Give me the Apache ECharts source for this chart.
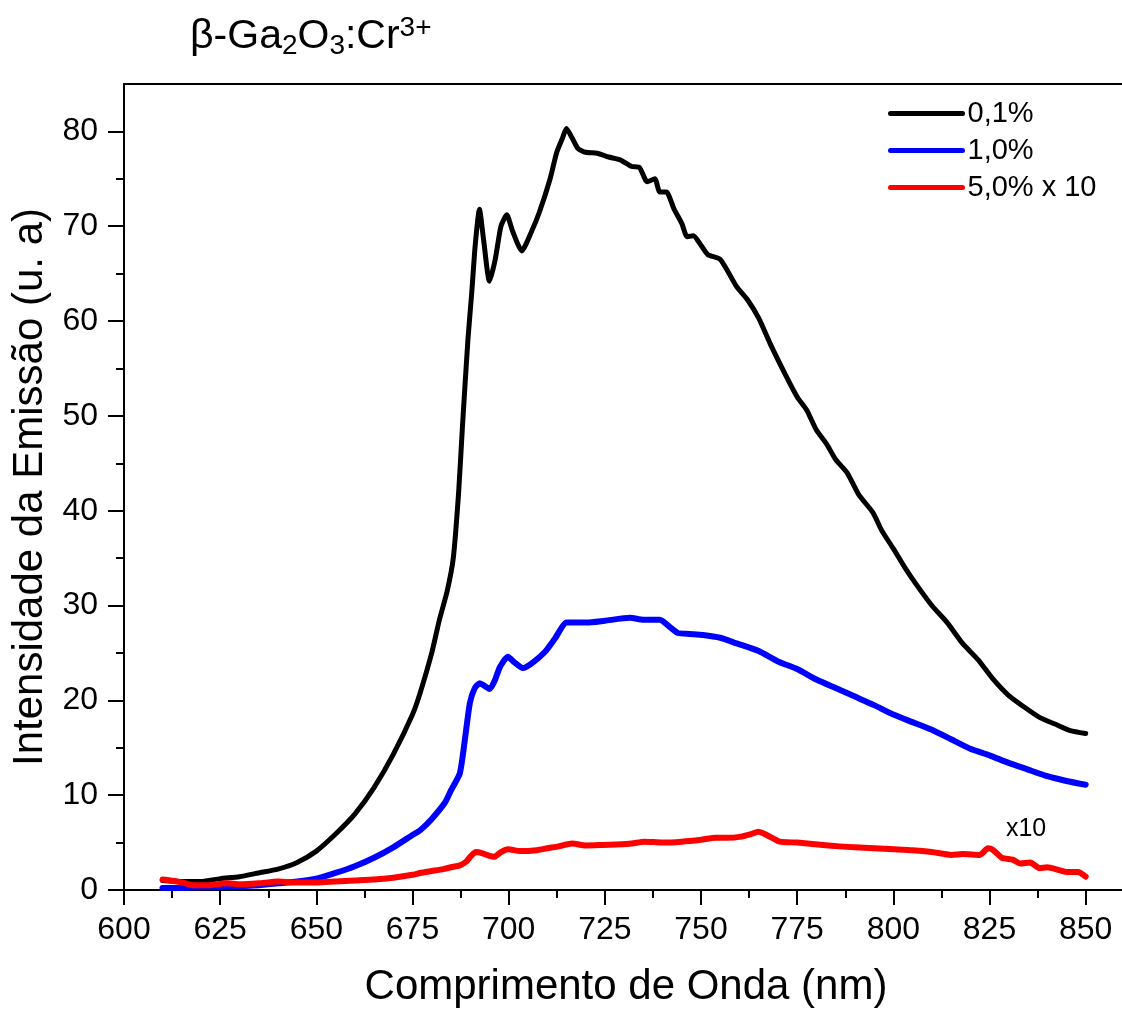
<!DOCTYPE html>
<html>
<head>
<meta charset="utf-8">
<title>β-Ga2O3:Cr3+</title>
<style>
html, body { margin: 0; padding: 0; background: #fff; overflow: hidden; }
#main { width: 1122px; height: 1014px; }
</style>
</head>
<body>
<div id="main"></div>
<script src="https://cdn.jsdelivr.net/npm/echarts@6.0.0/dist/echarts.min.js"></script>
<script>
// 0,1% Cr
var wlBlack = [610,615,620,625,630,635,640,645,650,655, 660,665,670,675,677,680,682,684,685.6,687,
  688,689.4,690.4,691.3,692.4,693.5,695,696.5,698,699.5, 701,703.4,706,708,710.7,712.5,714,715,716.5,718,
  720,723,726,729,732,734,736,738,739.3,741, 743,745,746.4,748,750,751.8,755,759.3,762,765,
  768,772,775,777.5,780,782.7,785,788,791,794.7, 797,800,803,806,810,814,818,822,826,830,
  834,838,842,846,850];
var valBlack = [1.0,0.9,0.9,1.2,1.4,1.8,2.2,2.9,4.1,5.9, 8.0,10.8,14.3,18.5,20.8,25,28.5,31.5,35,42,
  49,58,63,68,71.8,68.5,64.2,66.5,70,71.2, 69.5,67.4,69.5,71.5,74.9,77.8,79.3,80.3,79.3,78.2,
  77.8,77.7,77.3,77,76.3,76.2,74.7,75,73.6,73.6, 71.8,70.3,68.9,69,68,67,66.5,63.6,62.3,60.3,
  57.6,54.3,52,50.6,48.5,47,45.4,44,41.7,39.8, 37.9,36,34,32.2,30,28.2,26,24.3,22.2,20.5,
  19.3,18.2,17.5,16.8,16.5];

// 1,0% Cr
var wlBlue = [610,615,620,625,630,635,640,645,650,655, 660,665,670,675,677,680,683.4,685,687.3,688.6,
  689.9,691.2,692.5,693.8,695.1,696.5,697.7,699.8,701.5,703.7, 706,709.4,712,715.1,720.3,725,731.5,735,739.3,742,
  744,747,750.5,755,759.3,765,770,775,780,785, 790,795,800,805,810,815,820,825,830,835,
  840,845,850];
var valBlue = [0.2,0.2,0.3,0.3,0.4,0.5,0.7,0.9,1.2,1.8, 2.5,3.4,4.5,5.8,6.3,7.5,9.2,10.5,12.3,15.8,
  19.7,21.3,21.8,21.5,21.2,22.2,23.5,24.6,24.0,23.4, 23.9,25.1,26.5,28.2,28.2,28.4,28.7,28.5,28.5,27.7,
  27.1,27.0,26.9,26.6,26.0,25.2,24.1,23.3,22.2,21.3, 20.4,19.5,18.5,17.7,16.9,15.9,14.9,14.2,13.4,12.7,
  12.0,11.5,11.1];

// 5,0% Cr (x10)
var wlRed = [610,612,615,618,622,626.7,630,635,640,644, 650,655,660,665,670,675,677,680,683,685,
  687.3,689,690,691.5,693,695,696.2,698,699.8,703, 707.3,710,713,716.5,720,724.5,728,732,735.2,740,
  745,750,753.8,757,760,763,764.9,766,768,770.5, 775,781.7,786,790,795,800.2,805,810,815.1,818,
  822.5,824.6,826,828.2,831,833,835.6,838,840,843.1, 845,848,850];
var valRed = [1.1,1.0,0.8,0.5,0.5,0.7,0.6,0.7,0.9,0.8, 0.8,0.9,1.0,1.1,1.3,1.6,1.8,2.0,2.2,2.4,
  2.6,3.0,3.5,4.0,3.9,3.6,3.5,4.0,4.3,4.1, 4.2,4.4,4.6,4.9,4.7,4.75,4.8,4.9,5.1,5.0,
  5.1,5.3,5.5,5.5,5.6,5.9,6.15,6.0,5.6,5.1, 5.0,4.75,4.6,4.5,4.4,4.3,4.2,4.0,3.7,3.8,
  3.7,4.4,4.2,3.4,3.2,2.8,2.9,2.3,2.4,2.1, 1.9,1.9,1.4];

var names = ['0,1%', '1,0%', '5,0% x 10'];
var colors = ['#000000', '#0000ff', '#ff0000'];
var xMajor = [600,625,650,675,700,725,750,775,800,825,850];
var xMinor = [612.5,637.5,662.5,687.5,712.5,737.5,762.5,787.5,812.5,837.5];
var yMajor = [0,10,20,30,40,50,60,70,80];
var yMinor = [5,15,25,35,45,55,65,75];
var noteX10 = [834.5, 6.4];

var FONT = '"Liberation Sans", Arial, sans-serif';

function pairs(xs, ys) {
	return xs.map(function(x, i){ return [x, ys[i]]; });
}

var chart = echarts.init(document.getElementById('main'));

var option = {
	animation: false,
	backgroundColor: '#fff',
	textStyle: { fontFamily: FONT, color: '#000' },
	title: {
		left: 190, top: 14, padding: 0,
		text: '{n|β-Ga}{sub|2}{n|O}{sub|3}{n|:Cr}{sup|3+}',
		textStyle: {
			fontWeight: 'normal',
			rich: {
				n: { fontFamily: FONT, fontSize: 41, fontWeight: 'normal', color: '#000', lineHeight: 46 },
				sub: { fontFamily: FONT, fontSize: 28, fontWeight: 'normal', color: '#000', lineHeight: 14, verticalAlign: 'bottom' },
				sup: { fontFamily: FONT, fontSize: 28, fontWeight: 'normal', color: '#000', lineHeight: 24, verticalAlign: 'top' }
			}
		}
	},
	legend: {
		orient: 'vertical', left: 888, top: 99, padding: 0,
		itemWidth: 72, itemHeight: 5, itemGap: 8,
		data: names,
		lineStyle: { width: 5, cap: 'round' },
		textStyle: { fontFamily: FONT, fontSize: 29, color: '#000', lineHeight: 29 }
	},
	grid: {
		left: 124, top: 84, width: 1004, height: 806,
		outerBoundsMode: 'none', containLabel: false, show: false
	},
	xAxis: [
		{
			type: 'value', min: 600, max: 861, position: 'bottom',
			name: 'Comprimento de Onda (nm)', nameLocation: 'middle', nameGap: 76,
			nameTextStyle: { fontFamily: FONT, fontSize: 42, color: '#000' },
			axisLine: { show: true, lineStyle: { color: '#000', width: 2 } },
			axisTick: { show: true, customValues: xMajor, length: 15, lineStyle: { color: '#000', width: 2 } },
			axisLabel: { customValues: xMajor, fontFamily: FONT, fontSize: 32, color: '#000', margin: 24 },
			splitLine: { show: false }
		},
		{
			type: 'value', min: 600, max: 861, position: 'bottom',
			axisLine: { show: false },
			axisTick: { show: true, customValues: xMinor, length: 8, lineStyle: { color: '#000', width: 2 } },
			axisLabel: { show: false },
			splitLine: { show: false }
		},
		{
			// top frame line only
			type: 'value', min: 600, max: 861, position: 'top',
			axisLine: { show: true, lineStyle: { color: '#000', width: 2 } },
			axisTick: { show: false },
			axisLabel: { show: false },
			splitLine: { show: false }
		}
	],
	yAxis: [
		{
			type: 'value', min: 0, max: 85, position: 'left',
			name: 'Intensidade da Emissão (u. a)', nameLocation: 'middle', nameGap: 72,
			nameTextStyle: { fontFamily: FONT, fontSize: 42, color: '#000' },
			axisLine: { show: true, lineStyle: { color: '#000', width: 2 } },
			axisTick: { show: true, customValues: yMajor, length: 16, lineStyle: { color: '#000', width: 2 } },
			axisLabel: { customValues: yMajor, fontFamily: FONT, fontSize: 32, color: '#000', margin: 26 },
			splitLine: { show: false }
		},
		{
			type: 'value', min: 0, max: 85, position: 'left',
			axisLine: { show: false },
			axisTick: { show: true, customValues: yMinor, length: 8, lineStyle: { color: '#000', width: 2 } },
			axisLabel: { show: false },
			splitLine: { show: false }
		}
	],
	series: [
		{
			name: names[0], type: 'line', symbol: 'none', smooth: 0.2,
			data: pairs(wlBlack, valBlack),
			lineStyle: { color: colors[0], width: 5, cap: 'round', join: 'round' },
			itemStyle: { color: colors[0] }
		},
		{
			name: names[1], type: 'line', symbol: 'none', smooth: 0.2,
			data: pairs(wlBlue, valBlue),
			lineStyle: { color: colors[1], width: 6, cap: 'round', join: 'round' },
			itemStyle: { color: colors[1] }
		},
		{
			name: names[2], type: 'line', symbol: 'none', smooth: 0.2,
			data: pairs(wlRed, valRed),
			lineStyle: { color: colors[2], width: 6, cap: 'round', join: 'round' },
			itemStyle: { color: colors[2] },
			markPoint: {
				symbol: 'circle', symbolSize: 0,
				label: { show: true, position: 'inside', formatter: 'x10', fontFamily: FONT, fontSize: 25, color: '#000' },
				data: [{ coord: noteX10 }]
			}
		}
	]
};

chart.setOption(option);
</script>
</body>
</html>
